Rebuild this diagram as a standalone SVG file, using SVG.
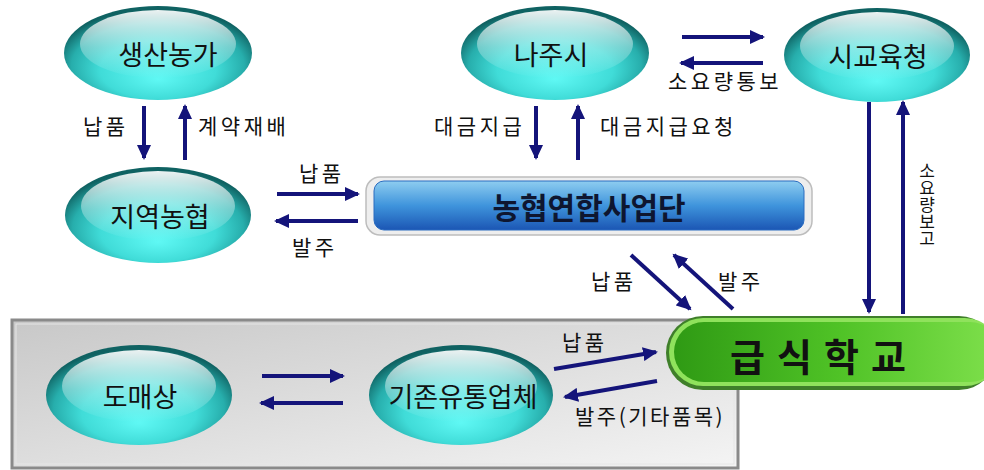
<svg xmlns="http://www.w3.org/2000/svg" width="984" height="470" viewBox="0 0 984 470">
<defs>
<radialGradient id="ball" cx="50%" cy="60%" r="56%" fx="50%" fy="78%">
<stop offset="0" stop-color="#5ff8f4"/>
<stop offset="0.55" stop-color="#40dcd8"/>
<stop offset="0.82" stop-color="#27aeac"/>
<stop offset="1" stop-color="#0f6262"/>
</radialGradient>
<linearGradient id="shine" x1="0" y1="0" x2="0" y2="1">
<stop offset="0" stop-color="#ffffff" stop-opacity="0.92"/>
<stop offset="0.55" stop-color="#ffffff" stop-opacity="0.35"/>
<stop offset="1" stop-color="#ffffff" stop-opacity="0"/>
</linearGradient>
<linearGradient id="blue" x1="0" y1="0" x2="0" y2="1">
<stop offset="0" stop-color="#8ecdf0"/>
<stop offset="0.5" stop-color="#3f94dc"/>
<stop offset="1" stop-color="#1b56b4"/>
</linearGradient>
<linearGradient id="green" x1="0" y1="0" x2="1" y2="0">
<stop offset="0" stop-color="#2f9a14"/>
<stop offset="0.5" stop-color="#4fc226"/>
<stop offset="1" stop-color="#7fe04c"/>
</linearGradient>
<linearGradient id="gray" x1="0" y1="0" x2="1" y2="1">
<stop offset="0" stop-color="#c8c8c8"/>
<stop offset="1" stop-color="#f4f4f4"/>
</linearGradient>
<marker id="ah" markerUnits="userSpaceOnUse" markerWidth="16" markerHeight="14" refX="13" refY="7" orient="auto">
<path d="M0,0 L15,7 L0,14 z" fill="#14147a"/>
</marker>
<style>
.ln{stroke:#14147a;stroke-width:4;fill:none;marker-end:url(#ah)}
.lb{font-family:"Noto Sans CJK KR","Noto Sans",sans-serif;font-size:21px;fill:#111;letter-spacing:3.5px}
.vt{font-family:"Noto Sans CJK KR","Noto Sans",sans-serif;font-size:17px;fill:#111;writing-mode:vertical-rl;text-orientation:upright}
.nt{font-family:"Noto Sans CJK KR","Noto Sans",sans-serif;font-size:27px;fill:#111;text-anchor:middle;dominant-baseline:central}
.rim{fill:url(#ball)}
.hl{fill:url(#shine)}
</style>
</defs>
<rect width="984" height="470" fill="#ffffff"/>

<g id="panel">
<rect x="12" y="320" width="726" height="148" fill="url(#gray)" stroke="#8a8a8a" stroke-width="3"/>
<rect x="16" y="324" width="718" height="140" fill="none" stroke="#e6e6e6" stroke-width="1"/>
</g>

<g id="n-saengsan">
<ellipse class="rim" cx="158" cy="53" rx="94" ry="47"/>
<ellipse class="hl" cx="158" cy="44" rx="78" ry="34"/>
<text class="nt" x="168" y="53">생산농가</text>
</g>
<g id="n-jiyeok">
<ellipse class="rim" cx="158" cy="215" rx="93" ry="48"/>
<ellipse class="hl" cx="158" cy="206" rx="77" ry="35"/>
<text class="nt" x="160" y="215">지역농협</text>
</g>
<g id="n-naju">
<ellipse class="rim" cx="555" cy="53" rx="94" ry="47"/>
<ellipse class="hl" cx="555" cy="44" rx="78" ry="34"/>
<text class="nt" x="551" y="53">나주시</text>
</g>
<g id="n-edu">
<ellipse class="rim" cx="877" cy="55" rx="93" ry="47"/>
<ellipse class="hl" cx="877" cy="46" rx="77" ry="34"/>
<text class="nt" x="878" y="55">시교육청</text>
</g>
<g id="n-nh">
<rect x="366" y="177" width="446" height="58" rx="14" fill="#eeeeee" stroke="#bdbdbd" stroke-width="1.5"/>
<rect x="374" y="181" width="430" height="49" rx="10" fill="url(#blue)" stroke="#2a6cc0" stroke-width="1"/>
<text x="589" y="206" text-anchor="middle" dominant-baseline="central" font-family="Noto Sans CJK KR, Noto Sans, sans-serif" font-size="30" font-weight="bold" fill="#0e1630">농협연합사업단</text>
</g>
<g id="n-domae">
<ellipse class="rim" cx="139" cy="395" rx="93" ry="50"/>
<ellipse class="hl" cx="139" cy="386" rx="77" ry="36"/>
<text class="nt" x="140" y="395">도매상</text>
</g>
<g id="n-gijon">
<ellipse class="rim" cx="461" cy="395" rx="92" ry="50"/>
<ellipse class="hl" cx="461" cy="386" rx="76" ry="36"/>
<text class="nt" x="463" y="395">기존유통업체</text>
</g>
<g id="n-school">
<rect x="666" y="316" width="330" height="74" rx="37" fill="#3f7f2a"/>
<rect x="669" y="318" width="330" height="68" rx="34" fill="#8fe25c"/>
<rect x="674" y="322" width="326" height="60" rx="30" fill="url(#green)"/>
<text x="824" y="354" text-anchor="middle" dominant-baseline="central" font-family="Noto Sans CJK KR, Noto Sans, sans-serif" font-size="38" font-weight="bold" fill="#111" letter-spacing="12">급식학교</text>
</g>

<g id="connectors">
<line class="ln" x1="144" y1="106" x2="144" y2="158"/>
<line class="ln" x1="185" y1="160" x2="185" y2="106"/>
<line class="ln" x1="277" y1="194" x2="358" y2="194"/>
<line class="ln" x1="358" y1="221" x2="276" y2="221"/>
<line class="ln" x1="536" y1="106" x2="536" y2="158"/>
<line class="ln" x1="578" y1="160" x2="578" y2="106"/>
<line class="ln" x1="682" y1="37" x2="763" y2="37"/>
<line class="ln" x1="763" y1="63" x2="681" y2="63"/>
<line class="ln" x1="869" y1="102" x2="869" y2="312"/>
<line class="ln" x1="903" y1="314" x2="903" y2="102"/>
<line class="ln" x1="631" y1="255" x2="690" y2="309"/>
<line class="ln" x1="733" y1="309" x2="674" y2="255"/>
<line class="ln" x1="262" y1="376" x2="343" y2="376"/>
<line class="ln" x1="343" y1="403" x2="261" y2="403"/>
<line class="ln" x1="554" y1="369" x2="656" y2="352"/>
<line class="ln" x1="657" y1="381" x2="565" y2="397"/>
</g>

<g id="labels">
<text class="lb" x="83" y="134">납품</text>
<text class="lb" x="198" y="134">계약재배</text>
<text class="lb" x="299" y="181">납품</text>
<text class="lb" x="292" y="255">발주</text>
<text class="lb" x="434" y="134">대금지급</text>
<text class="lb" x="600" y="134">대금지급요청</text>
<text class="lb" x="668" y="89">소요량통보</text>
<text class="lb" x="591" y="289">납품</text>
<text class="lb" x="718" y="289">발주</text>
<text class="lb" x="562" y="350">납품</text>
<text class="lb" x="575" y="424" style="letter-spacing:2.5px">발주(기타품목)</text>
<text class="vt" x="927" y="162">소요량보고</text>
</g>
</svg>
